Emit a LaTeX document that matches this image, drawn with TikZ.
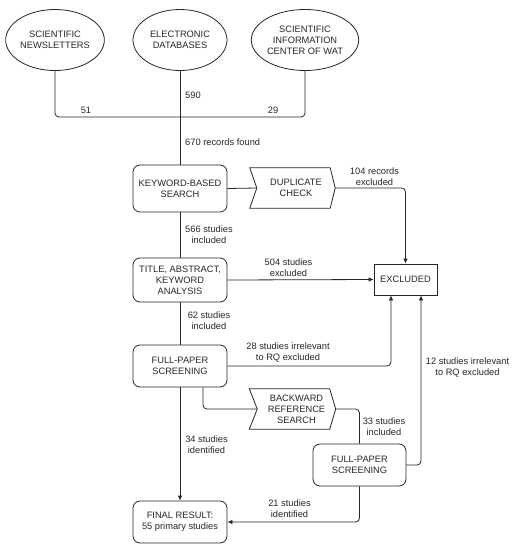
\documentclass[tikz,border=0pt]{standalone}
\usepackage{fontspec}
\setmainfont{Liberation Sans}
\usetikzlibrary{shapes.geometric,arrows.meta,calc}
\tikzset{
  base/.style={font=\fontsize{9.3}{11}\selectfont, text=black!85, align=center},
  src/.style={base, ellipse, draw=black!85, line width=0.8pt, minimum width=94pt, minimum height=61pt, inner sep=0pt},
  box/.style={base, rectangle, draw=black!85, line width=0.8pt, rounded corners=7pt, minimum height=42pt, inner sep=1pt},
  plain/.style={base, rectangle, draw=black!85, line width=0.8pt, inner sep=1pt},
  sig/.style={base, rectangle, minimum width=78pt, minimum height=40pt, inner sep=0pt},
  lbl/.style={base, inner sep=0pt},
  conn/.style={draw=black!85, line width=0.8pt, rounded corners=4pt},
  arr/.style={conn, -{Latex[length=5pt,width=4.5pt]}}
}
\begin{document}
\begin{tikzpicture}[x=1pt,y=-1pt]
\useasboundingbox (0,0) rectangle (514,550);
% sources
\node[src] (sn) at (55,40) {SCIENTIFIC\\NEWSLETTERS};
\node[src] (ed) at (180,40) {ELECTRONIC\\DATABASES};
\node[src] (sic) at (305,40) {SCIENTIFIC\\INFORMATION\\CENTER OF WAT};
% boxes
\node[box, minimum width=94pt, minimum height=47pt] (kw) at (180,188.5) {KEYWORD-BASED\\SEARCH};
\node[box, minimum width=94pt, minimum height=44pt] (ta) at (180,280) {TITLE, ABSTRACT,\\KEYWORD\\ANALYSIS};
\node[box, minimum width=94pt] (fp) at (180,366) {FULL-PAPER\\SCREENING};
\node[box, minimum width=94pt] (fin) at (180,522) {FINAL RESULT:\\55 primary studies};
\node[box, minimum width=93pt] (fp2) at (359.5,465) {FULL-PAPER\\SCREENING};
\node[plain, minimum width=63pt, minimum height=31pt] (ex) at (405.5,279.5) {EXCLUDED};
% signal shapes
\node[sig] (dup) at (296,188) {DUPLICATE\\CHECK};
\draw[black!85, line width=0.8pt]
  ($(dup.north west)+(-7,0)$) -- ($(dup.north east)+(-5,0)$) -- (dup.east)
  -- ($(dup.south east)+(-5,0)$) -- ($(dup.south west)+(-7,0)$) -- (dup.west) -- cycle;
\node[sig] (br) at (296.5,409) {BACKWARD\\REFERENCE\\SEARCH};
\draw[black!85, line width=0.8pt]
  ($(br.north west)+(-8,0)$) -- ($(br.north east)+(-6,0)$) -- (br.east)
  -- ($(br.south east)+(-6,0)$) -- ($(br.south west)+(-8,0)$) -- (br.west) -- cycle;
% junction
\coordinate (j) at (180,117);
\draw[conn] (sn.south) |- (j) -| (sic.south);
\draw[conn] (ed.south) -- (kw.north);
% connectors
\draw[conn] (kw.east) -- (dup.west);
\draw[arr] (dup.east) -| (ex.north);
\draw[conn] (kw.south) -- (ta.north);
\draw[arr] (ta.east) -- (ex.west);
\draw[conn] (ta.south) -- (fp.north);
\draw[arr] (fp.east) -| ($(ex.south)+(-14.5,0)$);
\draw[conn] ($(fp.south)+(23,0)$) |- (br.west);
\draw[conn] (br.east) -| (fp2.north);
\draw[arr] (fp2.east) -| ($(ex.south)+(15.5,0)$);
\draw[arr] (fp.south) -- (fin.north);
\draw[arr] (fp2.south) |- (fin.east);
% labels
\node[lbl] (l51) at (86,110) {51};
\node[lbl] (l590) at (193,95) {590};
\node[lbl] (l29) at (273,110) {29};
\node[lbl, anchor=west] (l670) at (185,142) {670 records found};
\node[lbl] (l104) at (374.5,176.5) {104 records\\excluded};
\node[lbl] (l566) at (209,235) {566 studies\\included};
\node[lbl] (l504) at (288.5,267.5) {504 studies\\excluded};
\node[lbl] (l62) at (209,321) {62 studies\\included};
\node[lbl] (l28) at (288,352.5) {28 studies irrelevant\\to RQ excluded};
\node[lbl] (l12) at (467.5,367.5) {12 studies irrelevant\\to RQ excluded};
\node[lbl] (l33) at (384,426.5) {33 studies\\included};
\node[lbl] (l34) at (206.5,444.5) {34 studies\\identified};
\node[lbl] (l21) at (289.5,509) {21 studies\\identified};
\end{tikzpicture}
\end{document}
